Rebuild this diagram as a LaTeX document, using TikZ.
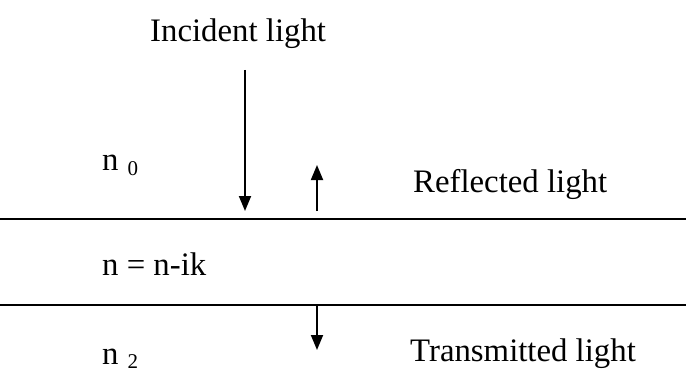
\documentclass[tikz,border=0pt]{standalone}
\usepackage{fontspec}
\setmainfont{Liberation Serif}
\usetikzlibrary{arrows.meta}
\begin{document}
\begin{tikzpicture}[x=1pt,y=1pt,
  lbl/.style={anchor=base west,inner sep=0pt,font=\fontsize{32.8}{38}\selectfont},
  ray/.style={line width=1.8pt,-{Triangle[length=15pt,width=12pt]}},
  iface/.style={line width=1.8pt}]
\useasboundingbox (0,0) rectangle (686,373);
% interfaces
\coordinate (l1a) at (0,154);
\coordinate (l1b) at (686,154);
\coordinate (l2a) at (0,68);
\coordinate (l2b) at (686,68);
\draw[iface] (l1a) -- (l1b);
\draw[iface] (l2a) -- (l2b);
% labels
\node[lbl] (inc) at (150,331) {Incident light};
\node[lbl] (n0) at (102,203) {n\hspace{9pt}\raisebox{-5pt}{\fontsize{21}{24}\selectfont 0}};
\node[lbl] (refl) at (413,181) {Reflected light};
\node[lbl] (n1) at (102,98) {n = n-ik};
\node[lbl] (n2) at (102,9) {n\hspace{9pt}\raisebox{-4pt}{\fontsize{21}{24}\selectfont 2}};
\node[lbl] (trans) at (410,12) {Transmitted light};
% rays
\coordinate (ia) at (245,303);
\coordinate (ib) at (245,162);
\coordinate (ra) at (317,162);
\coordinate (rb) at (317,208);
\coordinate (ta) at (317,68);
\coordinate (tb) at (317,23);
\draw[ray] (ia) -- (ib);
\draw[ray] (ra) -- (rb);
\draw[ray] (ta) -- (tb);
\end{tikzpicture}
\end{document}
